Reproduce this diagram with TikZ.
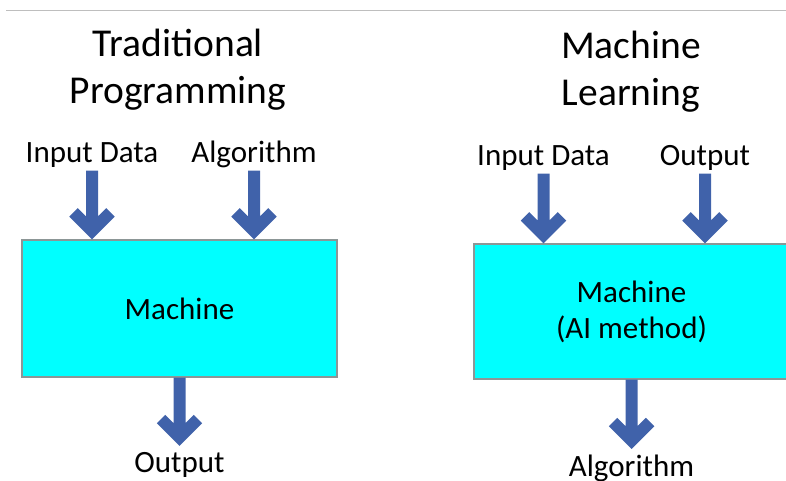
\documentclass[tikz,border=0pt]{standalone}
\usepackage{fontspec}
\setmainfont{Carlito}
\usetikzlibrary{
    calc
}
\definecolor{arrowblue}{RGB}{64,98,170}
\definecolor{boxline}{RGB}{140,150,150}
\definecolor{boxfill}{RGB}{0,255,255}
\definecolor{ruleline}{RGB}{190,190,190}

\begin{document}
\begin{tikzpicture}[
        x=1pt, y=1pt,
        every node/.style={
            inner sep=0pt,
            font=\fontsize{31pt}{36pt}\selectfont
        },
        title/.style={
            align=center,
            font=\fontsize{39.5pt}{47pt}\selectfont
        },
        label/.style={
            text depth=7.5pt
        },
        machine/.style={
            rectangle,
            draw=boxline,
            line width=1.2pt,
            fill=boxfill,
            minimum width=315pt,
            align=center
        },
        arrow/.style={
            draw=arrowblue,
            line width=12pt,
            to path={
                (\tikztostart) -- ($(\tikztotarget)+(0,8.5)$)
                ($(\tikztotarget)+(-18.5,27)$) -- ($(\tikztotarget)+(0,8.5)$)
                    -- ($(\tikztotarget)+(18.5,27)$)
            }
        }
    ]

    \useasboundingbox (0,0) rectangle (786,480);

    % thin rule along the top
    \draw[ruleline, line width=1pt] (6,469) -- (786,469);

    % left: traditional programming
    \node[title, anchor=base] (titleL) at (178,376)
        {Traditional\\Programming};

    \node[label, anchor=base] (inL1) at (92,317) {Input Data};
    \node[label, anchor=base] (inL2) at (254,317) {Algorithm};

    \node[machine, minimum height=137pt] (boxL) at (179.5,171.5)
        {Machine};

    \node[anchor=base] (outL) at (179.5,8) {Output};

    \coordinate (tipL1) at (boxL.north -| inL1);
    \coordinate (tipL2) at (boxL.north -| inL2);
    \coordinate (tipL3) at ([yshift=26pt]outL.base);

    \draw[arrow] (inL1) to (tipL1);
    \draw[arrow] (inL2) to (tipL2);
    \draw[arrow] (boxL) to (tipL3);

    % right: machine learning
    \node[title, anchor=base] (titleR) at (631,374)
        {Machine\\Learning};

    \node[label, anchor=base] (inR1) at (543.5,314) {Input Data};
    \node[label, anchor=base] (inR2) at (705,314) {Output};

    \node[machine, minimum height=135pt] (boxR) at (631.5,168.5)
        {Machine\\(AI method)};

    \node[anchor=base] (outR) at (631.5,4) {Algorithm};

    \coordinate (tipR1) at (boxR.north -| inR1);
    \coordinate (tipR2) at (boxR.north -| inR2);
    \coordinate (tipR3) at ([yshift=27pt]outR.base);

    \draw[arrow] (inR1) to (tipR1);
    \draw[arrow] (inR2) to (tipR2);
    \draw[arrow] (boxR) to (tipR3);

\end{tikzpicture}
\end{document}
